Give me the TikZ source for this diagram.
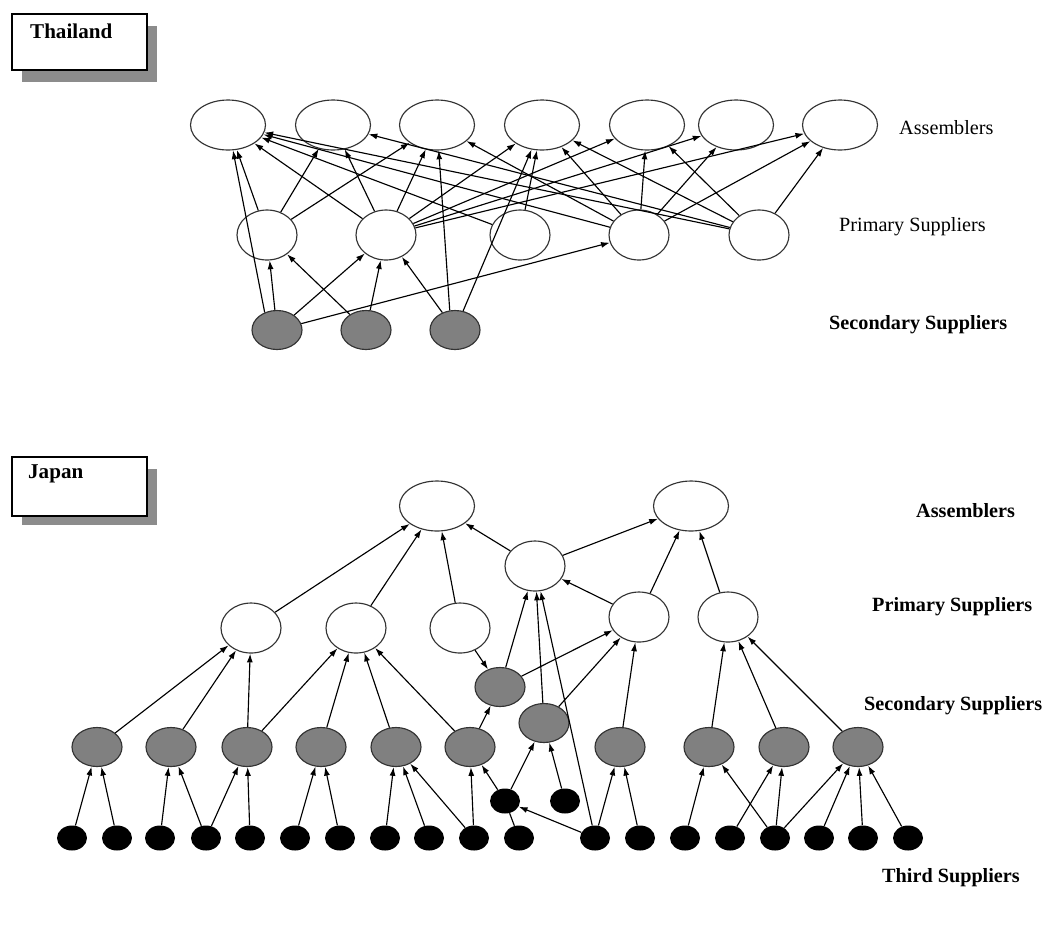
\documentclass[tikz,border=0pt]{standalone}
\usepackage{fontspec}
\setmainfont{Liberation Serif}
\usetikzlibrary{shapes.geometric,arrows.meta}
\tikzset{
  firm/.style={ellipse,draw=black!80,inner sep=0pt,line width=0.65pt},
  asm/.style={firm,fill=white,minimum width=1.5cm,minimum height=1cm},
  prim/.style={firm,fill=white,minimum width=1.2cm,minimum height=1cm},
  sec/.style={firm,fill=black!50,minimum width=1cm,minimum height=0.78cm},
  third/.style={ellipse,fill=black,inner sep=0pt,minimum width=0.6cm,minimum height=0.5cm},
  link/.style={-{Latex[length=5pt,width=3.4pt]},line width=0.65pt},
  tier/.style={anchor=west,font=\fontsize{11.5}{13}\selectfont},
  btier/.style={tier,font=\fontsize{11.5}{13}\selectfont\bfseries},
  country/.style={anchor=west,font=\fontsize{12}{14}\selectfont\bfseries}
}
\begin{document}
\begin{tikzpicture}[x=0.02cm,y=-0.02cm]
	\useasboundingbox (0,0) rectangle (1053,924);
	% country boxes
	\fill[black!45] (22,26) rectangle (157,82);
	\draw[fill=white,line width=0.8pt] (12,14) rectangle (147,70);
	\node[country] (thai) at (24,31) {Thailand};
	\fill[black!45] (22,469) rectangle (157,525);
	\draw[fill=white,line width=0.8pt] (12,457) rectangle (147,516);
	\node[country] (japan) at (22,474) {Japan};

	% Thailand
	\node[asm] (tA1) at (228,125) {};
	\node[asm] (tA2) at (333,125) {};
	\node[asm] (tA3) at (437,125) {};
	\node[asm] (tA4) at (542,125) {};
	\node[asm] (tA5) at (647,125) {};
	\node[asm] (tA6) at (736,125) {};
	\node[asm] (tA7) at (840,125) {};
	\node[prim] (tP1) at (267,235) {};
	\node[prim] (tP2) at (386,235) {};
	\node[prim] (tP3) at (520,235) {};
	\node[prim] (tP4) at (639,235) {};
	\node[prim] (tP5) at (759,235) {};
	\node[sec] (tS1) at (277,330) {};
	\node[sec] (tS2) at (366,330) {};
	\node[sec] (tS3) at (455,330) {};
	\node[tier] (tLa) at (893,128) {Assemblers};
	\node[tier] (tLp) at (833,227) {Primary Suppliers};
	\node[btier] (tLs) at (823,325) {Secondary Suppliers};

	\draw[link] (tS1.125) -- (tA1);
	\draw[link] (tS1) -- (tP1);
	\draw[link] (tS1) -- (tP2);
	\draw[link] (tS1) -- (tP4);
	\draw[link] (tS2) -- (tP1);
	\draw[link] (tS2) -- (tP2);
	\draw[link] (tS3) -- (tP2);
	\draw[link] (tS3.105) -- (tA3);
	\draw[link] (tS3) -- (tA4);
	\draw[link] (tP1) -- (tA1);
	\draw[link] (tP1) -- (tA2);
	\draw[link] (tP1) -- (tA3);
	\draw[link] (tP2) -- (tA1);
	\draw[link] (tP2) -- (tA2);
	\draw[link] (tP2) -- (tA3);
	\draw[link] (tP2) -- (tA4);
	\draw[link] (tP2) -- (tA5);
	\draw[link] (tP2) -- (tA6);
	\draw[link] (tP2) -- (tA7);
	\draw[link] (tP3) -- (tA1);
	\draw[link] (tP3) -- (tA4);
	\draw[link] (tP4) -- (tA1);
	\draw[link] (tP4) -- (tA3);
	\draw[link] (tP4) -- (tA4);
	\draw[link] (tP4) -- (tA5);
	\draw[link] (tP4) -- (tA6);
	\draw[link] (tP4) -- (tA7);
	\draw[link] (tP5) -- (tA1);
	\draw[link] (tP5) -- (tA2);
	\draw[link] (tP5) -- (tA4);
	\draw[link] (tP5) -- (tA5);
	\draw[link] (tP5) -- (tA7);

	% Japan
	\node[asm] (jA1) at (437,506) {};
	\node[asm] (jA2) at (691,506) {};
	\node[prim] (jP1) at (251,628) {};
	\node[prim] (jP2) at (356,628) {};
	\node[prim] (jP3) at (460,628) {};
	\node[prim] (jP4) at (535,566) {};
	\node[prim] (jP5) at (639,617) {};
	\node[prim] (jP6) at (728,617) {};
	\node[sec] (jSa) at (500,687) {};
	\node[sec] (jSb) at (544,723) {};
	\node[sec] (jS1) at (97,747) {};
	\node[sec] (jS2) at (171,747) {};
	\node[sec] (jS3) at (247,747) {};
	\node[sec] (jS4) at (321,747) {};
	\node[sec] (jS5) at (396,747) {};
	\node[sec] (jS6) at (470,747) {};
	\node[sec] (jS7) at (620,747) {};
	\node[sec] (jS8) at (709,747) {};
	\node[sec] (jS9) at (784,747) {};
	\node[sec] (jS10) at (858,747) {};
	\node[third] (jTa) at (505,801) {};
	\node[third] (jTb) at (565,801) {};
	\node[third] (jT1) at (72,838) {};
	\node[third] (jT2) at (117,838) {};
	\node[third] (jT3) at (160,838) {};
	\node[third] (jT4) at (206,838) {};
	\node[third] (jT5) at (250,838) {};
	\node[third] (jT6) at (295,838) {};
	\node[third] (jT7) at (340,838) {};
	\node[third] (jT8) at (385,838) {};
	\node[third] (jT9) at (429,838) {};
	\node[third] (jT10) at (474,838) {};
	\node[third] (jT11) at (519,838) {};
	\node[third] (jT12) at (595,838) {};
	\node[third] (jT13) at (640,838) {};
	\node[third] (jT14) at (685,838) {};
	\node[third] (jT15) at (730,838) {};
	\node[third] (jT16) at (775,838) {};
	\node[third] (jT17) at (819,838) {};
	\node[third] (jT18) at (863,838) {};
	\node[third] (jT19) at (908,838) {};
	\node[btier] (jLa) at (910,511) {Assemblers};
	\node[btier] (jLp) at (866,607) {Primary Suppliers};
	\node[btier] (jLs) at (858,706) {Secondary Suppliers};
	\node[btier] (jLt) at (876,878) {Third Suppliers};

	\draw[link] (jP1) -- (jA1);
	\draw[link] (jP2) -- (jA1);
	\draw[link] (jP3) -- (jA1);
	\draw[link] (jP4) -- (jA1);
	\draw[link] (jP4) -- (jA2);
	\draw[link] (jP5) -- (jA2);
	\draw[link] (jP6) -- (jA2);
	\draw[link] (jP5) -- (jP4);
	\draw[link] (jSa) -- (jP4);
	\draw[link] (jSb) -- (jP4);
	\draw[link] (jT12) -- (jP4);
	\draw[link] (jP3) -- (jSa);
	\draw[link] (jSa) -- (jP5);
	\draw[link] (jSb) -- (jP5);
	\draw[link] (jS7) -- (jP5);
	\draw[link] (jS8) -- (jP6);
	\draw[link] (jS9) -- (jP6);
	\draw[link] (jS10) -- (jP6);
	\draw[link] (jS1) -- (jP1);
	\draw[link] (jS2) -- (jP1);
	\draw[link] (jS3) -- (jP1);
	\draw[link] (jS3) -- (jP2);
	\draw[link] (jS4) -- (jP2);
	\draw[link] (jS5) -- (jP2);
	\draw[link] (jS6) -- (jP2);
	\draw[link] (jS6) -- (jSa);
	\draw[link] (jT1) -- (jS1);
	\draw[link] (jT2) -- (jS1);
	\draw[link] (jT3) -- (jS2);
	\draw[link] (jT4) -- (jS2);
	\draw[link] (jT4) -- (jS3);
	\draw[link] (jT5) -- (jS3);
	\draw[link] (jT6) -- (jS4);
	\draw[link] (jT7) -- (jS4);
	\draw[link] (jT8) -- (jS5);
	\draw[link] (jT9) -- (jS5);
	\draw[link] (jT10) -- (jS5);
	\draw[link] (jT10) -- (jS6);
	\draw[link] (jTa) -- (jS6);
	\draw[link] (jTa) -- (jSb);
	\draw[link] (jTb) -- (jSb);
	\draw[line width=0.65pt] (jT11) -- (jTa);
	\draw[link] (jT12) -- (jTa);
	\draw[link] (jT12) -- (jS7);
	\draw[link] (jT13) -- (jS7);
	\draw[link] (jT14) -- (jS8);
	\draw[link] (jT16) -- (jS8);
	\draw[link] (jT15) -- (jS9);
	\draw[link] (jT16) -- (jS9);
	\draw[link] (jT16) -- (jS10);
	\draw[link] (jT17) -- (jS10);
	\draw[link] (jT18) -- (jS10);
	\draw[link] (jT19) -- (jS10);
\end{tikzpicture}
\end{document}
